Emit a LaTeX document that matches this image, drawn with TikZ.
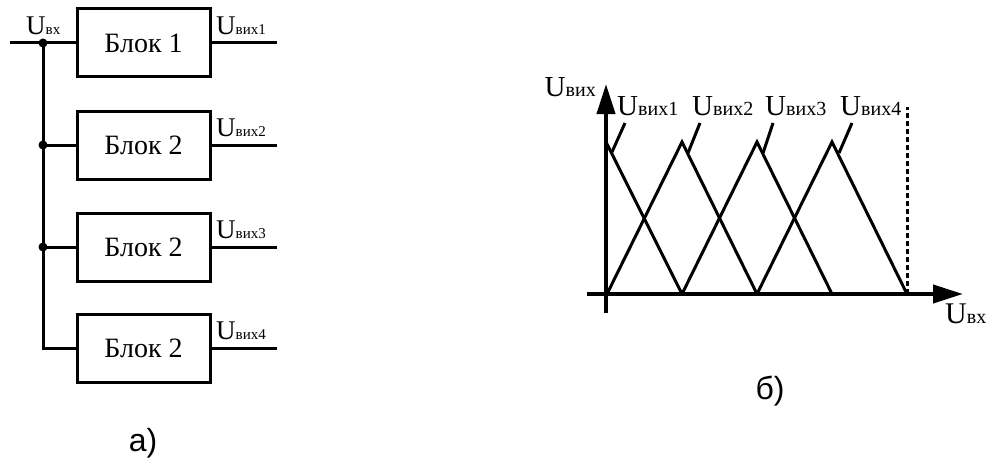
\documentclass[tikz,border=0pt]{standalone}
\usepackage{fontspec}
\setmainfont{Liberation Serif}
\newfontfamily\sansf{Liberation Sans}
\usetikzlibrary{arrows.meta}
\newcommand{\ULab}[3]{{\fontsize{#1}{#1}\selectfont U}{\fontsize{#2}{#2}\selectfont #3}}
\begin{document}
\begin{tikzpicture}[x=1pt,y=-1pt,
  blk/.style={draw, line width=3pt, minimum width=133pt, minimum height=68pt, inner sep=0pt, font=\fontsize{28}{28}\selectfont},
  wire/.style={line width=3pt, line join=miter},
  jdot/.style={circle, fill, inner sep=0pt, minimum size=9pt},
  axis/.style={line width=4pt, -{Triangle[length=30pt,width=18pt]}},
  tri/.style={line width=3pt, line join=miter},
  lead/.style={line width=3pt},
  lab/.style={anchor=base west, inner sep=0pt},
  caption/.style={font=\sansf\fontsize{32}{32}\selectfont, inner sep=0pt}]
\useasboundingbox (0,0) rectangle (988,460);
% ---- part a ----
\node[blk] (b1) at (143.5,43) {Блок 1};
\node[blk] (b2) at (143.5,145) {Блок 2};
\node[blk] (b3) at (143.5,247) {Блок 2};
\node[blk] (b4) at (143.5,348) {Блок 2};
\coordinate (in) at (10,43);
\node[jdot] (j1) at (43,43) {};
\node[jdot] (j2) at (43,145) {};
\node[jdot] (j3) at (43,247) {};
\coordinate (j4) at (43,348);
\draw[wire] (in) -- (b1.west);
\draw[wire] (j1.center) -- (j4) -- (b4.west);
\draw[wire] (j2.center) -- (b2.west);
\draw[wire] (j3.center) -- (b3.west);
\coordinate (o1) at (277,43);
\coordinate (o2) at (277,145);
\coordinate (o3) at (277,247);
\coordinate (o4) at (277,348);
\draw[wire] (b1.east) -- (o1);
\draw[wire] (b2.east) -- (o2);
\draw[wire] (b3.east) -- (o3);
\draw[wire] (b4.east) -- (o4);
\node[lab] (lin) at (26,35) {\ULab{27}{15}{вх}};
\node[lab] (lo1) at (216,35) {\ULab{27}{15}{вих1}};
\node[lab] (lo2) at (216,136) {\ULab{27}{15}{вих2}};
\node[lab] (lo3) at (216,238) {\ULab{27}{15}{вих3}};
\node[lab] (lo4) at (216,339) {\ULab{27}{15}{вих4}};
\node[caption] (ca) at (143,443) {а)};
% ---- part b ----
\coordinate (xs) at (587,294);
\coordinate (xe) at (963,294);
\coordinate (ys) at (606,313);
\coordinate (ye) at (606,84);
\draw[axis] (xs) -- (xe);
\draw[axis] (ys) -- (ye);
\coordinate (P1) at (606,142);
\coordinate (P2) at (682,142);
\coordinate (P3) at (757,142);
\coordinate (P4) at (832,142);
\coordinate (B1) at (607,294);
\coordinate (B2) at (682,294);
\coordinate (B3) at (757,294);
\coordinate (B4) at (832,294);
\coordinate (B5) at (907,294);
\coordinate (D) at (907,107);
\draw[tri] (P1) -- (B2);
\draw[tri] (B1) -- (P2) -- (B3);
\draw[tri] (B2) -- (P3) -- (B4);
\draw[tri] (B3) -- (P4) -- (B5);
\draw[line width=3pt, dash pattern=on 5pt off 3pt] (B5) -- (D);
\coordinate (L1a) at (625,123); \coordinate (L1b) at (612,152);
\coordinate (L2a) at (700,123); \coordinate (L2b) at (688,153);
\coordinate (L3a) at (773,123); \coordinate (L3b) at (763,153);
\coordinate (L4a) at (852,123); \coordinate (L4b) at (839,153);
\draw[lead] (L1a) -- (L1b);
\draw[lead] (L2a) -- (L2b);
\draw[lead] (L3a) -- (L3b);
\draw[lead] (L4a) -- (L4b);
\node[lab] (t1) at (617,115) {\ULab{29}{20}{вих1}};
\node[lab] (t2) at (692,115) {\ULab{29}{20}{вих2}};
\node[lab] (t3) at (765,115) {\ULab{29}{20}{вих3}};
\node[lab] (t4) at (840,115) {\ULab{29}{20}{вих4}};
\node[anchor=base east, inner sep=0pt] (ay) at (596,96) {\ULab{29}{20}{вих}};
\node[lab] (ax) at (945,323) {\ULab{30}{20}{вх}};
\node[caption] (cb) at (770,391) {б)};
\end{tikzpicture}
\end{document}
